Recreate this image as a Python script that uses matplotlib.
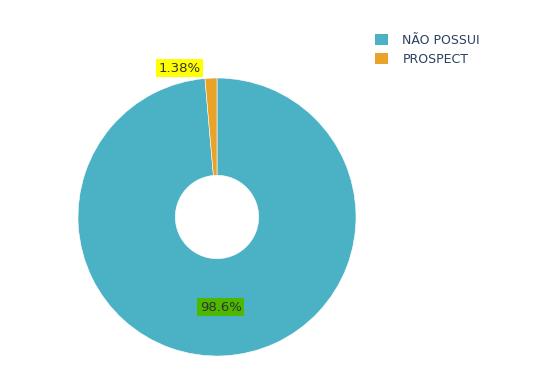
import matplotlib
matplotlib.use("Agg")
import matplotlib.pyplot as plt
from matplotlib.patches import Patch

labels = ["NÃO POSSUI", "PROSPECT"]
values = [98.62, 1.38]
colors = ["#4BB2C5", "#EAA228"]
label_bg = ["#4CB800", "#FFFF00"]

fig = plt.figure(figsize=(5.41, 3.78), dpi=100)
W, H = 541, 378
cx, cy, R = 217, 217, 139
ax = fig.add_axes([(cx - R) / W, 1 - (cy + R) / H, 2 * R / W, 2 * R / H])
ax.set_xlim(-1, 1)
ax.set_ylim(-1, 1)
ax.set_aspect("equal")
ax.axis("off")

wedges, texts, autotexts = ax.pie(
    values, colors=colors, startangle=90, counterclock=False, radius=1,
    wedgeprops=dict(width=0.7, edgecolor="white", linewidth=0.4),
    autopct=lambda p: f"{p:.1f}%" if p >= 10 else f"{p:.2f}%",
    pctdistance=0.65, textprops=dict(fontsize=9.5, color="#333333"),
)
ax.set_xlim(-1, 1)
ax.set_ylim(-1, 1)

for t, bg in zip(autotexts, label_bg):
    t.set_bbox(dict(facecolor=bg, edgecolor="none", pad=1.8))
# move small label outside
autotexts[1].set_position((-0.27, 1.07))

handles = [Patch(facecolor=c, edgecolor="none") for c in colors]
leg = fig.legend(handles, labels, loc="upper left", bbox_to_anchor=(375 / W, 1 - 34 / H),
                 frameon=False, fontsize=9, handlelength=1.0, handleheight=1.0,
                 handletextpad=1.2, labelspacing=0.45, borderaxespad=0,
                 borderpad=0)
for t in leg.get_texts():
    t.set_color("#2A3F5F")

fig.savefig("out.png", dpi=100)
